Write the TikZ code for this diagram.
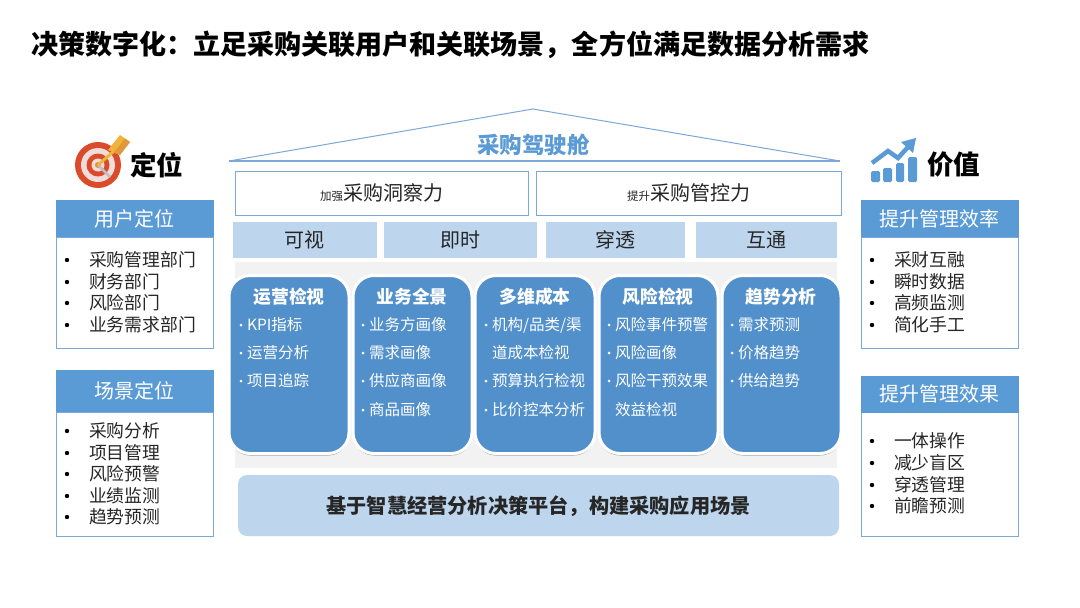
\documentclass[tikz,border=0pt]{standalone}
\usepackage{fontspec}
\setmainfont{Noto Sans CJK SC}
\usetikzlibrary{shadows}
\definecolor{hdr}{HTML}{5B9BD5}
\definecolor{edgeb}{HTML}{7AA8D8}
\definecolor{pale}{HTML}{BDD6EE}
\definecolor{card}{HTML}{5290CB}
\definecolor{ink}{HTML}{262626}
\definecolor{tred}{HTML}{DB4A2B}
\definecolor{tlight}{HTML}{F0DCD8}
\definecolor{tgold}{HTML}{F2B33D}
\definecolor{tdark}{HTML}{DE9A3A}
\tikzset{
 x=1pt,y=-1pt,
 every node/.style={inner sep=0pt,outer sep=0pt},
 hdrbox/.style={fill=hdr,text=white,font=\fontsize{20}{20}\selectfont,text height=17.6pt,text depth=2.4pt},
 listbox/.style={draw=edgeb,line width=1pt,fill=white},
 listtext/.style={font=\fontsize{17.8}{18}\selectfont,text=ink,anchor=west,text height=15.2pt,text depth=2.5pt},
 pillar/.style={fill=pale,text=ink,font=\fontsize{20}{20}\selectfont,text height=17.6pt,text depth=2.4pt},
 cardbox/.style={draw=white,line width=3pt,fill=card,rounded corners=21pt,drop shadow={shadow xshift=0pt,shadow yshift=-2pt,opacity=.35,fill=black}},
 cardtitle/.style={text=white,font=\bfseries\fontsize{17.8}{18}\selectfont,text height=15.4pt,text depth=2.1pt},
 cardtext/.style={text=white,font=\fontsize{15.5}{16}\selectfont,anchor=west,text height=13.3pt,text depth=2.2pt},
 wbox/.style={draw=edgeb,line width=1pt,fill=white,text=ink,text height=17.6pt,text depth=2.4pt},
}
\newcommand{\sized}[2]{{\fontsize{#1}{#1}\selectfont #2}}
\newcommand{\sideitem}[5]{\fill[black] (#2,#4) circle (2.2pt);\node[listtext] (#1) at (#3,#4) {#5};}
\newcommand{\carditem}[4]{\fill[white] ({#2-6},#3) circle (1.5pt);\node[cardtext] (#1) at (#2,#3) {#4};}
\newcommand{\cardcont}[4]{\node[cardtext] (#1) at (#2,#3) {#4};}
\begin{document}
\begin{tikzpicture}
\useasboundingbox (0,0) rectangle (1080,608);
\fill[white] (0,0) rectangle (1080,608);
\node[anchor=west,font=\bfseries\fontsize{27.05}{27}\selectfont,text=black] (title) at (31,44.5) {决策数字化：立足采购关联用户和关联场景，全方位满足数据分析需求};
% roof
\coordinate (rl) at (229,161);
\coordinate (rt) at (533,109);
\coordinate (rr) at (840,161);
\draw[edgeb,line width=1pt] (rl) -- (rt) -- (rr);
\draw[edgeb,line width=1.3pt] (rl) -- (rr);
\node[font=\bfseries\fontsize{22.5}{23}\selectfont,text=hdr] (roof) at (533.5,145) {采购驾驶舱};
\node[wbox,minimum width=293pt,minimum height=44pt] (a) at (381.5,193) {\sized{11.5}{加强}\sized{20}{采购洞察力}};
\node[wbox,minimum width=305pt,minimum height=44pt] (b) at (688.5,193) {\sized{11.5}{提升}\sized{20}{采购管控力}};
\node[pillar,minimum width=144pt,minimum height=36pt] (p1) at (304.5,239.5) {可视};
\node[pillar,minimum width=153pt,minimum height=36pt] (p2) at (460.5,239.5) {即时};
\node[pillar,minimum width=139pt,minimum height=36pt] (p3) at (615.5,239.5) {穿透};
\node[pillar,minimum width=141pt,minimum height=36pt] (p4) at (766.5,239.5) {互通};
% grey band
\fill[black!5] (235,262) rectangle (837,468);
% cards
\node[cardbox,minimum width=120pt,minimum height=178pt] (c1) at (289,364.5) {};
\node[cardbox,minimum width=119pt,minimum height=178pt] (c2) at (412.5,364.5) {};
\node[cardbox,minimum width=120pt,minimum height=178pt] (c3) at (535,364.5) {};
\node[cardbox,minimum width=119pt,minimum height=178pt] (c4) at (658.5,364.5) {};
\node[cardbox,minimum width=119pt,minimum height=178pt] (c5) at (781.5,364.5) {};
\node[cardtitle] (t1) at (289,297) {运营检视};
\node[cardtitle] (t2) at (412,297) {业务全景};
\node[cardtitle] (t3) at (535,297) {多维成本};
\node[cardtitle] (t4) at (658,297) {风险检视};
\node[cardtitle] (t5) at (781,297) {趋势分析};
\carditem{a1}{247}{325}{KPI指标}
\carditem{a2}{247}{353}{运营分析}
\carditem{a3}{247}{381}{项目追踪}
\carditem{b1}{369}{325}{业务方画像}
\carditem{b2}{369}{353}{需求画像}
\carditem{b3}{369}{381}{供应商画像}
\carditem{b4}{369}{410}{商品画像}
\carditem{d1}{492}{325}{机构/品类/渠}
\cardcont{d2}{492}{353}{道成本检视}
\carditem{d3}{492}{381}{预算执行检视}
\carditem{d4}{492}{410}{比价控本分析}
\carditem{e1}{615}{325}{风险事件预警}
\carditem{e2}{615}{353}{风险画像}
\carditem{e3}{615}{381}{风险干预效果}
\cardcont{e4}{615}{410}{效益检视}
\carditem{f1}{738}{325}{需求预测}
\carditem{f2}{738}{353}{价格趋势}
\carditem{f3}{738}{381}{供给趋势}
% base
\node[fill=pale,rounded corners=9pt,minimum width=601pt,minimum height=61pt,font=\bfseries\fontsize{20.2}{21}\selectfont,text=ink,text height=17.8pt,text depth=2.4pt] (base) at (538.5,505.5) {基于智慧经营分析决策平台，构建采购应用场景};
% target icon
\fill[tred] (98,165) circle (23pt);
\fill[tlight] (98,165) circle (17pt);
\fill[tred] (98,165) circle (11.5pt);
\fill[tlight] (98,165) circle (6.5pt);
\fill[tgold!60!tred] (98,165) circle (3pt);
\draw[black!25,line width=2.5pt] (98,165) -- (110,177);
\draw[tgold,line width=3pt] (98,165) -- (114,151);
\fill[tgold] (108,150) -- (120,135) -- (130,142) -- (120,155) -- cycle;
\fill[tdark] (114,152.5) -- (125,138.5) -- (130,142) -- (120,155) -- cycle;
\node[font=\bfseries\fontsize{26.5}{27}\selectfont,text=black] (dw) at (156.5,165) {定位};
% left column
\node[listbox,minimum width=157pt,minimum height=111pt] (l1) at (134.5,292.5) {};
\node[hdrbox,minimum width=158pt,minimum height=37pt] (h1) at (134.5,218.5) {用户定位};
\sideitem{l1a}{67}{89}{260}{采购管理部门}
\sideitem{l1b}{67}{89}{282}{财务部门}
\sideitem{l1c}{67}{89}{303}{风险部门}
\sideitem{l1d}{67}{89}{325}{业务需求部门}
\node[listbox,minimum width=157pt,minimum height=124pt] (l2) at (134.5,474) {};
\node[hdrbox,minimum width=158pt,minimum height=42pt] (h2) at (134.5,391) {场景定位};
\sideitem{l2a}{67}{89}{431}{采购分析}
\sideitem{l2b}{67}{89}{453}{项目管理}
\sideitem{l2c}{67}{89}{474}{风险预警}
\sideitem{l2d}{67}{89}{496}{业绩监测}
\sideitem{l2e}{67}{89}{517}{趋势预测}
% value icon
\fill[hdr,rounded corners=1.5pt] (871,171) rectangle (880,182);
\fill[hdr,rounded corners=1.5pt] (883,168) rectangle (892,182);
\fill[hdr,rounded corners=1.5pt] (896,163) rectangle (904,182);
\fill[hdr,rounded corners=1.5pt] (908,157) rectangle (917,182);
\draw[hdr,line width=4.5pt] (872,163) -- (888,151) -- (898,158) -- (909,146);
\fill[hdr] (901,142) -- (916,138) -- (913,153) -- cycle;
\node[font=\bfseries\fontsize{26.5}{27}\selectfont,text=black] (jz) at (953.5,165) {价值};
% right column
\node[listbox,minimum width=157pt,minimum height=111pt] (l3) at (939.5,292.5) {};
\node[hdrbox,minimum width=158pt,minimum height=37pt] (h3) at (939.5,218.5) {提升管理效率};
\sideitem{r1a}{872}{894}{260}{采财互融}
\sideitem{r1b}{872}{894}{282}{瞬时数据}
\sideitem{r1c}{872}{894}{303}{高频监测}
\sideitem{r1d}{872}{894}{325}{简化手工}
\node[listbox,minimum width=157pt,minimum height=124pt] (l4) at (939.5,474) {};
\node[hdrbox,minimum width=158pt,minimum height=37pt] (h4) at (939.5,394) {提升管理效果};
\sideitem{r2a}{872}{894}{441}{一体操作}
\sideitem{r2b}{872}{894}{463}{减少盲区}
\sideitem{r2c}{872}{894}{485}{穿透管理}
\sideitem{r2d}{872}{894}{506}{前瞻预测}
\end{tikzpicture}
\end{document}
